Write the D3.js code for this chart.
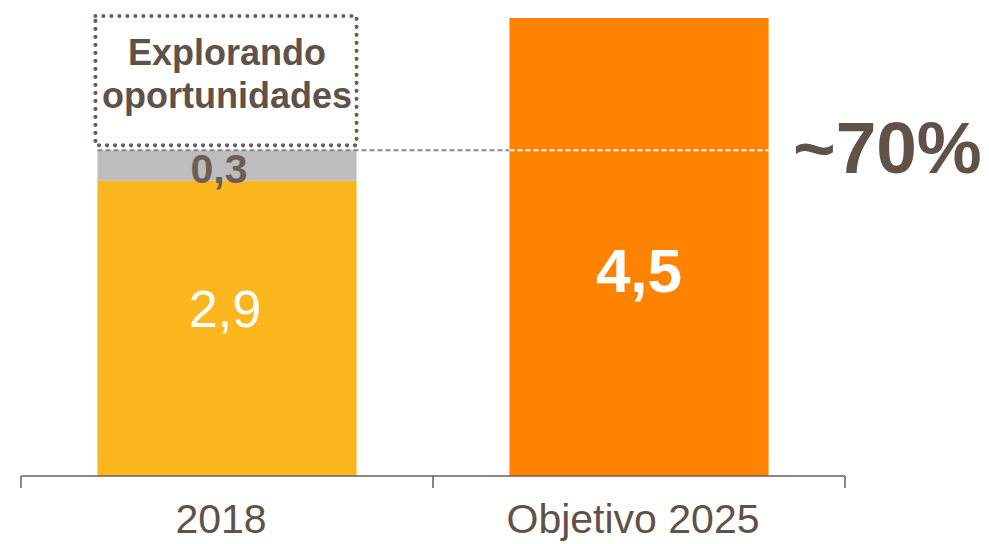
<!DOCTYPE html>
<html>
<head>
<meta charset="utf-8">
<script src="https://cdn.jsdelivr.net/npm/d3@7"></script>
<style>
  html, body { margin: 0; padding: 0; background: #fff; }
  svg { display: block; font-family: "Liberation Sans", Arial, sans-serif; }
</style>
</head>
<body>
<svg id="chart" width="989" height="544"></svg>
<script>
//
// Data
//
var categories = ['2018', 'Objetivo 2025']
var baseValues = [2.9, 4.5]
var extraValues = [0.3, 0]
var baseLabels = ['2,9', '4,5']
var extraLabels = ['0,3', '']
var exploreTop = 4.5
var exploreText = ['Explorando', 'oportunidades']
var shareLabel = '~70%'

//
// Colors
//
var colorBase = ['#fdb71e', '#ff8300']
var colorExtra = '#bdbdbd'
var colorText = '#5f5249'
var colorAxis = '#6b5f58'

var svg = d3.select('#chart')

var x = d3.scaleBand()
  .domain(categories)
  .range([21, 845])
  .paddingInner(0.371)
  .paddingOuter(0.1855)

var y = d3.scaleLinear()
  .domain([0, 4.5])
  .range([476, 18])

var bw = x.bandwidth()
var gap = x.step() * x.paddingInner() / 2

// base bars
svg.selectAll('rect.base')
  .data(categories)
  .enter().append('rect')
  .attr('class', 'base')
  .attr('x', function(d) { return x(d) })
  .attr('width', bw)
  .attr('y', function(d, i) { return y(baseValues[i]) })
  .attr('height', function(d, i) { return y(0) - y(baseValues[i]) })
  .attr('fill', function(d, i) { return colorBase[i] })

// extra (grey) segment
svg.selectAll('rect.extra')
  .data(categories.filter(function(d, i) { return extraValues[i] > 0 }))
  .enter().append('rect')
  .attr('class', 'extra')
  .attr('x', function(d) { return x(d) })
  .attr('width', bw)
  .attr('y', function(d) { var i = categories.indexOf(d); return y(baseValues[i] + extraValues[i]) })
  .attr('height', function(d) { var i = categories.indexOf(d); return y(baseValues[i]) - y(baseValues[i] + extraValues[i]) })
  .attr('fill', colorExtra)

// dotted box "Explorando oportunidades"
var total0 = baseValues[0] + extraValues[0]
svg.append('rect')
  .attr('x', x(categories[0]) - 2)
  .attr('y', y(exploreTop) - 2)
  .attr('width', bw + 2)
  .attr('height', y(total0) - y(exploreTop) - 3)
  .attr('fill', 'none')
  .attr('stroke', '#6b5f57')
  .attr('stroke-width', 4.2)
  .attr('stroke-linecap', 'round')
  .attr('stroke-dasharray', '0 8')

svg.selectAll('text.explore')
  .data(exploreText)
  .enter().append('text')
  .attr('class', 'explore')
  .attr('x', x(categories[0]) + bw / 2)
  .attr('y', function(d, i) { return 65 + i * 43 })
  .attr('text-anchor', 'middle')
  .attr('font-size', 36)
  .attr('font-weight', 'bold')
  .attr('fill', colorText)
  .text(function(d) { return d })

// dashed reference line at current total
var yRef = y(total0)
svg.append('line')
  .attr('x1', x(categories[0])).attr('x2', x(categories[1]))
  .attr('y1', yRef).attr('y2', yRef)
  .attr('stroke', '#8a8a8a')
  .attr('stroke-width', 2)
  .attr('stroke-dasharray', '5 3')
svg.append('line')
  .attr('x1', x(categories[1])).attr('x2', x(categories[1]) + bw)
  .attr('y1', yRef).attr('y2', yRef)
  .attr('stroke', '#fff')
  .attr('stroke-width', 2)
  .attr('stroke-dasharray', '5 3')

// value labels
svg.append('text')
  .attr('x', x(categories[0]) + bw / 2 - 2)
  .attr('y', 327)
  .attr('text-anchor', 'middle')
  .attr('font-size', 52)
  .attr('fill', '#fff')
  .text(baseLabels[0])

svg.append('text')
  .attr('x', x(categories[1]) + bw / 2)
  .attr('y', 292)
  .attr('text-anchor', 'middle')
  .attr('font-size', 62)
  .attr('font-weight', 'bold')
  .attr('fill', '#fff')
  .text(baseLabels[1])

svg.append('text')
  .attr('x', x(categories[0]) + bw / 2 - 8)
  .attr('y', 183)
  .attr('text-anchor', 'middle')
  .attr('font-size', 41)
  .attr('font-weight', 'bold')
  .attr('fill', '#6a5e56')
  .text(extraLabels[0])

svg.append('text')
  .attr('x', 793)
  .attr('y', 173)
  .attr('font-size', 73)
  .attr('font-weight', 'bold')
  .attr('fill', colorText)
  .text(shareLabel)

// axis with ticks at band boundaries
var bounds = categories.map(function(d) { return x(d) - gap })
bounds.push(x(categories[categories.length - 1]) + bw + gap)
var axisY = y(0)
svg.append('line')
  .attr('x1', bounds[0]).attr('x2', bounds[bounds.length - 1])
  .attr('y1', axisY).attr('y2', axisY)
  .attr('stroke', colorAxis)
  .attr('stroke-width', 1.5)
svg.selectAll('line.tick')
  .data(bounds)
  .enter().append('line')
  .attr('class', 'tick')
  .attr('x1', function(d) { return d }).attr('x2', function(d) { return d })
  .attr('y1', axisY).attr('y2', axisY + 12)
  .attr('stroke', colorAxis)
  .attr('stroke-width', 1.5)

svg.selectAll('text.cat')
  .data(categories)
  .enter().append('text')
  .attr('class', 'cat')
  .attr('x', function(d) { return x(d) + bw / 2 - 6 })
  .attr('y', 533)
  .attr('text-anchor', 'middle')
  .attr('font-size', 41)
  .attr('fill', colorText)
  .text(function(d) { return d })
</script>
</body>
</html>
